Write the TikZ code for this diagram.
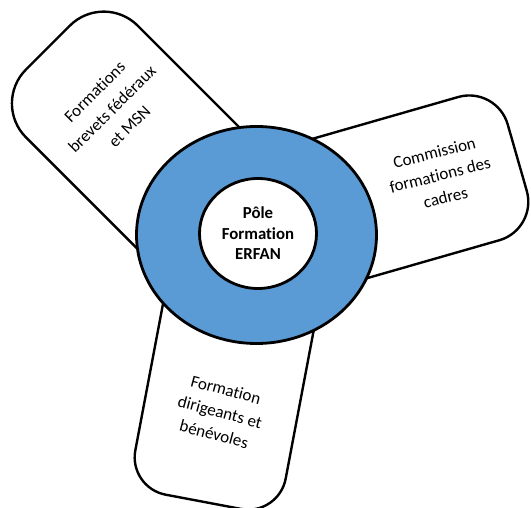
\documentclass[tikz,border=0pt]{standalone}
\usepackage{fontspec}
\setmainfont{Carlito}[Ligatures=NoCommon]
\usetikzlibrary{shapes.geometric,positioning}
\definecolor{anneau}{RGB}{91,155,213}

\begin{document}
\begin{tikzpicture}[x=1pt, y=1pt,
    branche/.style={draw, line width=2.4pt, fill=white, inner sep=0pt},
    texte/.style={align=center, inner sep=0pt, font=\fontsize{17}{23}\selectfont}]
\useasboundingbox (0,0) rectangle (531,508);
 %%%%%%%%%%%%%%%%%branches
\node[branche, rounded corners=48pt, rotate=45, minimum width=158, minimum height=280] (brevets) at (146.9,361.4) {};
\node[branche, rounded corners=40pt, rotate=16, minimum width=272, minimum height=149] (cadres) at (386.5,312.9) {};
\node[branche, rounded corners=38pt, rotate=-10.7, minimum width=153, minimum height=272] (dirigeants) at (228.7,139.8) {};
 %%%%%%%%%%%%%%%%%anneau
\node[ellipse, draw, line width=2.8pt, fill=anneau, minimum width=240, minimum height=217] (anneau) at (256.5,273) {};
\node[ellipse, draw, line width=2.8pt, fill=white, minimum width=117, minimum height=110,
    align=center, font=\bfseries\fontsize{16.8}{20.5}\selectfont] (pole) at (258,274.5) {Pôle\\Formation\\ERFAN};
 %%%%%%%%%%%%%%%%%textes
\node[texte, rotate=45, font=\fontsize{17}{24.5}\selectfont] (tbrevets) at (112,399) {Formations\\brevets fédéraux\\et MSN};
\node[texte, rotate=14] (tcadres) at (440,333) {Commission\\formations des\\cadres};
\node[texte, rotate=-15] (tdirigeants) at (220,96) {Formation\\dirigeants et\\bénévoles};
\end{tikzpicture}
\end{document}
